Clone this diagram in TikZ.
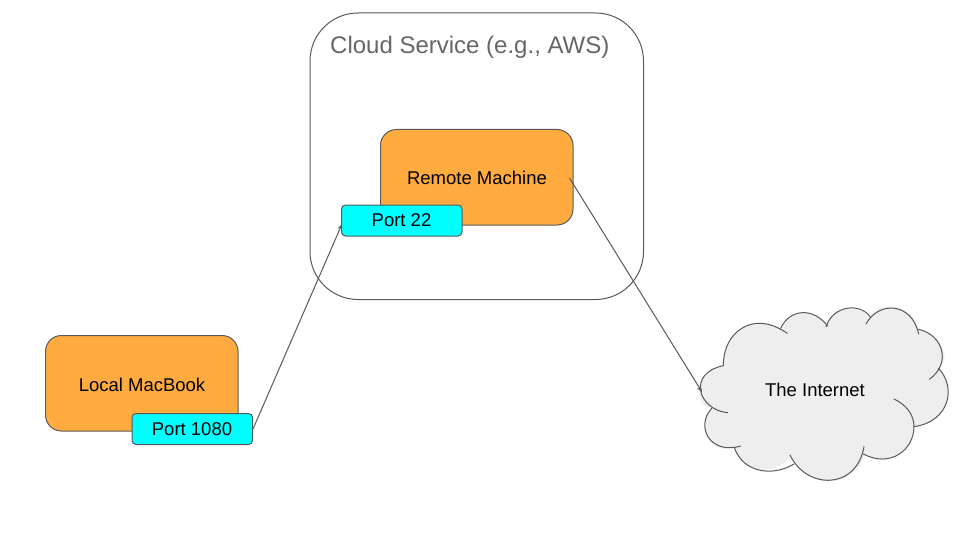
\documentclass[tikz,border=0pt]{standalone}
\usepackage{fontspec}
\setmainfont{Liberation Sans}
\usetikzlibrary{arrows.meta}
\definecolor{edge}{HTML}{595959}
\definecolor{orangefill}{HTML}{FFAB40}
\definecolor{cyanfill}{HTML}{00FFFF}
\definecolor{cloudfill}{HTML}{EEEEEE}
\definecolor{cloudtext}{HTML}{666666}
\tikzset{
  box/.style={draw=edge,line width=1pt,rectangle,inner sep=0pt,anchor=north west},
  machine/.style={box,fill=orangefill,rounded corners=16pt,minimum width=192.5pt,minimum height=95.5pt},
  portbox/.style={box,fill=cyanfill,rounded corners=4pt,minimum width=120.5pt,minimum height=31pt},
  label/.style={font=\fontsize{18.5}{21}\selectfont,text=black,inner sep=0pt},
  link/.style={draw=edge,line width=1pt,-{Stealth[length=6pt,width=4.5pt]}},
  cloudline/.style={draw=edge,line width=1pt,line cap=round}
}
\begin{document}
\begin{tikzpicture}[x=1pt,y=-1pt]
\useasboundingbox (0,0) rectangle (960,540);
\node[box,rounded corners=48pt,minimum width=333.5pt,minimum height=286.5pt] (service) at (309.5,12.5) {};
\node[anchor=base west,inner sep=0pt,text=cloudtext,font=\fontsize{24}{28}\selectfont] (servicetext) at (330,54) {Cloud Service (e.g., AWS)};
\node[machine] (remote) at (380,129) {};
\node[label] (remotetext) at (477,178) {Remote Machine};
\node[portbox] (p22) at (341,204.5) {};
\node[label] (p22text) at (401.5,220.5) {Port 22};
\node[machine] (local) at (45,335) {};
\node[label] (localtext) at (142,384.5) {Local MacBook};
\node[portbox] (p1080) at (131.5,413) {};
\node[label] (p1080text) at (192,429) {Port 1080};
\begin{scope}[shift={(690,300)},x=0.3333pt,y=-0.3333pt]
\fill[cloudfill]
  (100,197) .. controls (100,110) and (160,68) .. (210,70)
  .. controls (235,70) and (255,78) .. (275,88)
  .. controls (300,25) and (370,22) .. (411,78)
  .. controls (430,15) and (510,8) .. (535,55)
  .. controls (565,3) and (665,5) .. (686,88)
  .. controls (760,105) and (785,190) .. (745,205)
  .. controls (800,260) and (780,365) .. (672,380)
  .. controls (672,450) and (600,505) .. (522,462)
  .. controls (500,570) and (350,570) .. (303,470)
  .. controls (250,530) and (160,520) .. (133,443)
  .. controls (60,465) and (15,380) .. (65,325)
  .. controls (25,330) and (-10,220) .. (100,197) -- cycle;
\draw[cloudline] (100,197) .. controls (100,110) and (160,68) .. (210,70) .. controls (240,70) and (270,85) .. (292,100);
\draw[cloudline] (272,85) .. controls (300,25) and (370,22) .. (413,78);
\draw[cloudline] (408,80) .. controls (430,15) and (510,8) .. (540,50);
\draw[cloudline] (528,72) .. controls (565,3) and (665,5) .. (686,102);
\draw[cloudline] (686,88) .. controls (760,105) and (785,190) .. (718,238);
\draw[cloudline] (745,205) .. controls (800,260) and (780,365) .. (672,380);
\draw[cloudline] (612,297) .. controls (650,315) and (672,345) .. (672,380) .. controls (672,450) and (600,505) .. (520,462);
\draw[cloudline] (522,440) .. controls (500,570) and (350,570) .. (300,465);
\draw[cloudline] (312,492) .. controls (250,530) and (160,520) .. (133,443);
\draw[cloudline] (152,438) .. controls (60,465) and (15,380) .. (65,325);
\draw[cloudline] (113,338) .. controls (25,330) and (-10,220) .. (100,197);
\end{scope}
\node[label] (nettext) at (815,390) {The Internet};
\coordinate (netin) at (702,392);
\coordinate (remoteout) at (569.5,178);
\coordinate (p22in) at (342,224);
\coordinate (p1080out) at (p1080.east);
\draw[link] (p1080out) -- (p22in);
\draw[link] (remoteout) -- (netin);
\end{tikzpicture}
\end{document}
